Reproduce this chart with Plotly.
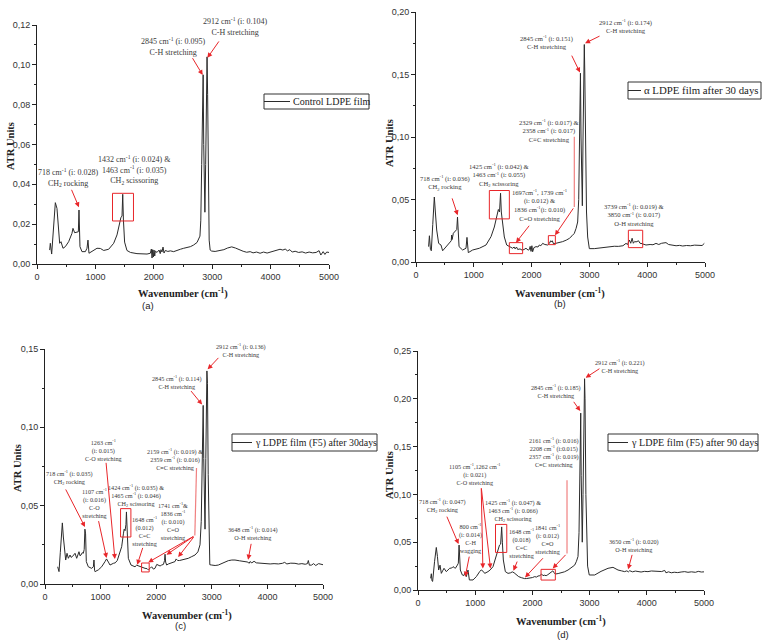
import plotly.graph_objects as go

# ---------------- data: wavenumber (cm-1) and ATR units ----------------
wn_a = [217,228,251,285,314,342,371,388,411,445,485,542,599,616,645,685,708,719,736,770,828,856,873,890,942,
        1027,1085,1142,1227,1313,1370,1416,1438,1456,1468,1480,1500,1540,1600,1712,1800,1884,1941,1958,1970,1981,
        1993,2004,2016,2026,2055,2090,2110,2123,2140,2158,2175,2198,2240,2283,2340,2397,2455,2512,2570,2626,2680,
        2740,2790,2805,2820,2835,2845,2855,2865,2875,2888,2900,2912,2922,2935,2948,2965,2990,3050,3120,3200,3260,
        3334,3400,3470,3530,3590,3650,3700,3760,3820,3880,3940,4000,4060,4110,4161,4210,4250,4290,4330,4370,4420,
        4480,4540,4600,4660,4720,4780,4830,4860,4900,4930,4960,5000]
atr_a = [0.0070,0.0104,0.0050,0.0170,0.0308,0.0279,0.0146,0.0104,0.0112,0.0079,0.0087,0.0112,0.0154,0.0179,0.0157,
         0.0162,0.0162,0.0271,0.0087,0.0062,0.0062,0.0079,0.0120,0.0054,0.0062,0.0079,0.0078,0.0068,0.0074,0.0104,
         0.0146,0.0213,0.0235,0.0240,0.0350,0.0221,0.0110,0.0068,0.0058,0.0052,0.0050,0.0050,0.0054,0.0075,0.0030,
         0.0072,0.0035,0.0070,0.0040,0.0065,0.0058,0.0070,0.0052,0.0072,0.0060,0.0085,0.0055,0.0068,0.0063,0.0066,
         0.0062,0.0070,0.0074,0.0079,0.0082,0.0087,0.0095,0.0108,0.0140,0.0220,0.0500,0.0850,0.0950,0.0600,0.0300,
         0.0260,0.0500,0.0900,0.1040,0.0850,0.0400,0.0120,0.0070,0.0065,0.0063,0.0066,0.0072,0.0080,0.0086,0.0080,
         0.0070,0.0064,0.0059,0.0062,0.0056,0.0060,0.0054,0.0060,0.0055,0.0060,0.0062,0.0068,0.0074,0.0070,0.0075,
         0.0066,0.0072,0.0060,0.0064,0.0058,0.0061,0.0055,0.0060,0.0056,0.0058,0.0067,0.0045,0.0062,0.0048,0.0060,0.0058]

wn_b = [218,232,250,265,290,317,335,358,392,432,461,490,519,577,610,617,625,646,680,705,718,730,745,807,865,882,895,
        905,980,1096,1211,1298,1355,1400,1425,1445,1463,1476,1500,1528,1569,1615,1672,1697,1715,1739,1760,1800,1836,
        1870,1903,1940,1961,1975,1990,2005,2018,2040,2076,2110,2134,2160,2191,2230,2278,2310,2329,2345,2358,2380,2422,
        2480,2537,2600,2653,2700,2739,2770,2797,2815,2830,2845,2855,2865,2878,2890,2912,2920,2935,2950,2970,2999,3085,
        3200,3300,3431,3500,3580,3633,3660,3691,3715,3739,3760,3785,3806,3850,3875,3893,3979,4050,4100,4152,4200,4250,
        4325,4370,4440,4500,4560,4614,4680,4750,4820,4902,4950,4988]
atr_b = [0.0123,0.0210,0.0100,0.0090,0.0300,0.0520,0.0400,0.0256,0.0149,0.0136,0.0090,0.0105,0.0123,0.0149,0.0170,
         0.0216,0.0180,0.0230,0.0243,0.0260,0.0360,0.0200,0.0123,0.0096,0.0110,0.0197,0.0090,0.0075,0.0096,0.0110,
         0.0136,0.0203,0.0280,0.0360,0.0420,0.0400,0.0550,0.0400,0.0300,0.0200,0.0136,0.0123,0.0110,0.0120,0.0105,
         0.0120,0.0100,0.0105,0.0095,0.0100,0.0110,0.0095,0.0100,0.0125,0.0085,0.0130,0.0082,0.0115,0.0123,0.0120,
         0.0136,0.0130,0.0149,0.0140,0.0136,0.0150,0.0170,0.0160,0.0170,0.0145,0.0149,0.0155,0.0163,0.0175,0.0189,
         0.0210,0.0229,0.0270,0.0320,0.0500,0.1000,0.1510,0.1000,0.0500,0.0450,0.1000,0.1740,0.1520,0.0800,0.0400,
         0.0200,0.0107,0.0107,0.0115,0.0120,0.0126,0.0125,0.0130,0.0149,0.0140,0.0176,0.0150,0.0190,0.0150,0.0165,
         0.0160,0.0170,0.0150,0.0149,0.0136,0.0140,0.0138,0.0149,0.0140,0.0150,0.0155,0.0140,0.0136,0.0130,0.0133,
         0.0128,0.0132,0.0130,0.0135,0.0136,0.0132,0.0149]

wn_c = [228,240,252,275,300,312,330,348,372,396,420,450,470,492,515,540,570,595,611,630,647,670,689,705,718,730,743,
        779,839,870,881,892,899,959,1019,1079,1107,1140,1169,1229,1263,1300,1340,1379,1410,1424,1440,1456,1465,1475,
        1499,1547,1619,1648,1679,1739,1760,1799,1836,1858,1890,1918,1950,1978,2010,2038,2070,2098,2130,2150,2159,2170,
        2188,2220,2248,2290,2338,2359,2386,2420,2458,2520,2578,2640,2698,2750,2788,2810,2828,2845,2855,2866,2878,2892,
        2912,2922,2935,2950,2964,2998,3060,3117,3200,3297,3360,3417,3500,3597,3648,3670,3687,3720,3760,3800,3897,3960,
        4050,4120,4197,4270,4310,4350,4420,4496,4560,4620,4680,4720,4736,4755,4796,4830,4870,4920,4976,5000]
atr_c = [0.0110,0.0085,0.0079,0.0200,0.0370,0.0390,0.0300,0.0220,0.0153,0.0196,0.0164,0.0185,0.0170,0.0175,0.0185,
         0.0196,0.0164,0.0190,0.0206,0.0180,0.0185,0.0200,0.0196,0.0220,0.0350,0.0320,0.0143,0.0110,0.0100,0.0110,
         0.0153,0.0085,0.0079,0.0090,0.0110,0.0143,0.0160,0.0140,0.0121,0.0132,0.0135,0.0150,0.0190,0.0238,0.0320,
         0.0350,0.0340,0.0380,0.0460,0.0350,0.0164,0.0121,0.0110,0.0120,0.0115,0.0110,0.0105,0.0100,0.0098,0.0090,
         0.0100,0.0110,0.0095,0.0100,0.0125,0.0121,0.0115,0.0121,0.0125,0.0150,0.0190,0.0140,0.0121,0.0128,0.0132,
         0.0138,0.0143,0.0160,0.0150,0.0150,0.0153,0.0158,0.0164,0.0175,0.0185,0.0205,0.0250,0.0400,0.0800,0.1140,
         0.0800,0.0400,0.0350,0.0800,0.1360,0.1280,0.0700,0.0300,0.0123,0.0121,0.0118,0.0121,0.0135,0.0149,0.0153,
         0.0153,0.0148,0.0143,0.0140,0.0132,0.0143,0.0135,0.0145,0.0135,0.0132,0.0130,0.0128,0.0130,0.0128,0.0132,
         0.0138,0.0128,0.0133,0.0132,0.0127,0.0130,0.0126,0.0130,0.0150,0.0120,0.0121,0.0130,0.0118,0.0130,0.0128,0.0123]

wn_d = [221,233,245,256,290,320,340,361,385,408,430,455,495,525,554,590,612,635,653,688,705,718,730,740,775,800,816,
        845,874,888,898,962,1020,1078,1105,1140,1166,1224,1262,1311,1370,1400,1425,1445,1463,1475,1492,1527,1574,1620,
        1648,1680,1719,1760,1807,1841,1865,1900,1952,2000,2040,2070,2098,2130,2161,2185,2208,2240,2270,2302,2330,2357,
        2380,2401,2450,2506,2560,2623,2680,2739,2770,2797,2815,2828,2845,2853,2862,2872,2885,2898,2912,2920,2935,2950,
        2965,2994,3089,3200,3322,3409,3497,3560,3613,3650,3680,3701,3750,3800,3846,3900,3960,4020,4080,4150,4200,4260,
        4313,4335,4380,4429,4480,4540,4600,4662,4720,4780,4850,4900,4954,5000]
atr_d = [0.0122,0.0170,0.0095,0.0090,0.0300,0.0445,0.0350,0.0209,0.0260,0.0174,0.0200,0.0227,0.0192,0.0210,0.0227,
         0.0230,0.0244,0.0235,0.0227,0.0260,0.0280,0.0470,0.0300,0.0209,0.0157,0.0150,0.0174,0.0140,0.0209,0.0130,
         0.0105,0.0105,0.0140,0.0192,0.0210,0.0195,0.0174,0.0192,0.0210,0.0244,0.0350,0.0420,0.0470,0.0480,0.0660,
         0.0500,0.0314,0.0192,0.0174,0.0180,0.0190,0.0180,0.0157,0.0140,0.0129,0.0120,0.0119,0.0120,0.0122,0.0130,
         0.0140,0.0135,0.0146,0.0150,0.0167,0.0150,0.0155,0.0150,0.0160,0.0174,0.0180,0.0200,0.0180,0.0167,0.0172,
         0.0180,0.0190,0.0209,0.0230,0.0260,0.0300,0.0350,0.0600,0.1200,0.1850,0.1200,0.0550,0.0500,0.1000,0.1600,
         0.2210,0.2000,0.1000,0.0450,0.0250,0.0157,0.0157,0.0195,0.0227,0.0237,0.0209,0.0200,0.0192,0.0200,0.0190,
         0.0202,0.0190,0.0198,0.0192,0.0188,0.0195,0.0192,0.0199,0.0195,0.0200,0.0193,0.0205,0.0180,0.0190,0.0180,
         0.0186,0.0182,0.0188,0.0192,0.0185,0.0190,0.0185,0.0195,0.0188,0.0190]

series_names = ["Control LDPE film", "\u03b1 LDPE film after 30 days",
                "\u03b3 LDPE film (F5) after 30days", "\u03b3 LDPE film (F5) after 90 days"]
panel_letters = ["(a)", "(b)", "(c)", "(d)"]
y_max = [0.12, 0.20, 0.15, 0.25]
y_step = [0.02, 0.05, 0.05, 0.05]

CM = "cm<sup>-1</sup>"
# labels: (text, x, y) in data units
labels_a = [
    (f"2912 {CM} (i: 0.104)<br>C-H stretching", 3405, 0.119),
    (f"2845 {CM} (i: 0.095)<br>C-H stretching", 2335, 0.109),
    (f"1432 {CM} (i: 0.024) &<br>1463 {CM} (i: 0.035)<br>CH<sub>2</sub> scissoring", 1669, 0.047),
    (f"718 {CM} (i: 0.028)<br>CH<sub>2</sub> rocking", 545, 0.0434),
]
labels_b = [
    (f"2912 {CM} (i: 0.174)<br>C-H stretching", 3622, 0.189),
    (f"2845 {CM} (i: 0.151)<br>C-H stretching", 2266, 0.176),
    (f"2329 {CM} (i: 0.017) &<br>2358 {CM} (i: 0.017)<br>C\u2261C stretching", 2307, 0.105),
    (f"1697{CM}, 1739 {CM}<br>(i: 0.012) &<br>1836 {CM}(i: 0.010)<br>C=O stretching", 2151, 0.046),
    (f"1425 {CM} (i: 0.042) &<br>1463 {CM} (i: 0.055)<br>CH<sub>2</sub> scissoring", 1442, 0.0698),
    (f"718 {CM} (i: 0.036)<br>CH<sub>2</sub> rocking", 507, 0.0634),
    (f"3739 {CM} (i: 0.019) &<br>3850 {CM} (i: 0.017)<br>O-H stretching", 3777, 0.0377),
]
labels_c = [
    (f"2912 {CM} (i: 0.136)<br>C-H stretching", 3533, 0.1496),
    (f"2845 {CM} (i: 0.114)<br>C-H stretching", 2365, 0.1287),
    (f"2159 {CM} (i: 0.019) &<br>2359 {CM} (i: 0.016)<br>C\u2261C stretching", 2335, 0.0798),
    (f"1741 {CM}&<br>1836 {CM}<br>(i: 0.010)<br>C=O<br>stretching", 2305, 0.0404),
    (f"1648 {CM}<br>(0.012)<br>C=C<br>stretching", 1784, 0.0338),
    (f"1424 {CM} (i: 0.035) &<br>1465 {CM} (i: 0.046)<br>CH<sub>2</sub> scissoring", 1637, 0.0566),
    (f"1263 {CM}<br>(i: 0.015)<br>C-O stretching", 1048, 0.0853),
    (f"1107 {CM}<br>(i: 0.016)<br>C-O<br>stretching", 886, 0.0517),
    (f"718 {CM} (i: 0.035)<br>CH<sub>2</sub> rocking", 445, 0.0677),
    (f"3648 {CM} (i: 0.014)<br>O-H stretching", 3742, 0.0326),
]
labels_d = [
    (f"2912 {CM} (i: 0.221)<br>C-H stretching", 3535, 0.2345),
    (f"2845 {CM} (i: 0.185)<br>C-H stretching", 2413, 0.208),
    (f"2161 {CM} (i: 0.016)<br>2208 {CM} (i:0.015)<br>2357 {CM} (i: 0.019)<br>C\u2261C stretching", 2384, 0.1444),
    (f"1841 {CM}<br>(i: 0.012)<br>C\u2261O<br>stretching", 2256, 0.0536),
    (f"1648 {CM}<br>(0.018)<br>C=C<br>stretching", 1802, 0.0494),
    (f"1425 {CM} (i: 0.047) &<br>1463 {CM} (i: 0.066)<br>CH<sub>2</sub> scissoring", 1657, 0.0828),
    (f"1105 {CM},1262 {CM}<br>(i: 0.021)<br>C-O stretching", 988, 0.1214),
    (f"800 {CM}<br>(i: 0.014)<br>C-H<br>wagging", 919, 0.054),
    (f"718 {CM} (i: 0.047)<br>CH<sub>2</sub> rocking", 430, 0.0884),
    (f"3650 {CM} (i: 0.020)<br>O-H stretching", 3779, 0.0473),
]
# arrows: (tail x, tail y, tip x, tip y)
arrows_a = [(3132, 0.1125, 2918, 0.1035), (2648, 0.1041, 2837, 0.0949), (581, 0.038, 718, 0.0285)]
arrows_b = [(3201, 0.1813, 2925, 0.175), (2682, 0.1663, 2837, 0.1516), (2739, 0.0441, 2405, 0.0214),
            (1978, 0.0302, 1730, 0.0155), (617, 0.0521, 721, 0.0374)]
arrows_c = [(3144, 0.1453, 2925, 0.137), (2605, 0.1241, 2826, 0.1145), (2695, 0.0309, 2186, 0.0187),
            (2695, 0.0309, 2395, 0.0172), (2695, 0.0309, 1856, 0.0138), (1766, 0.024, 1659, 0.0123),
            (1096, 0.0783, 1257, 0.016), (958, 0.0411, 1108, 0.0166), (359, 0.0613, 719, 0.0364),
            (3713, 0.0266, 3653, 0.0155)]
arrows_d = [(3198, 0.2325, 2930, 0.222), (2704, 0.1984, 2837, 0.1872), (2605, 0.0383, 2355, 0.0226),
            (2209, 0.0348, 1872, 0.0132), (1744, 0.0313, 1669, 0.0202), (1105, 0.1079, 1134, 0.0226),
            (1105, 0.1079, 1267, 0.0226), (901, 0.0365, 826, 0.0139), (494, 0.0783, 709, 0.048),
            (3750, 0.0383, 3674, 0.0216)]
# connector lines (x0, y0, x1, y1)
lines_a = []
lines_b = [(2739, 0.1003, 2739, 0.0441)]
lines_c = [(2725, 0.0741, 2695, 0.0309)]
lines_d = [(2605, 0.1148, 2605, 0.0383)]
# boxes (x0, y0, x1, y1)
boxes_a = [(1293, 0.0216, 1652, 0.0355)]
boxes_b = [(2290, 0.0139, 2411, 0.0211), (1615, 0.0067, 1845, 0.0155), (1269, 0.0345, 1615, 0.0572),
           (3674, 0.0115, 3922, 0.0254)]
boxes_c = [(1737, 0.0077, 1874, 0.0134), (1359, 0.030, 1545, 0.0481)]
boxes_d = [(2151, 0.0104, 2401, 0.0216), (1355, 0.0393, 1552, 0.0686)]

# ---------------- layout geometry (pixels of a 762x641 page) ----------------
W, H = 762, 641
plot_px = [(37, 329, 25, 264), (416, 705, 12, 262), (45, 323, 349, 584), (418, 704, 351, 590)]
# legend box: (left, top, right, bottom, line end x, font size)
legend_px = [(264, 94, 369, 109, 290, 10), (628, 82, 761, 99, 641, 10.8),
             (232, 434, 377, 451, 252, 9.9), (608, 434, 758, 451, 628, 10.1)]
xtitle_px = [(183, 293), (560, 293), (187, 615), (561, 621)]
ytitle_px = [(10, 146), (389, 143), (17, 468), (389, 475)]
letter_px = [(148, 305), (560, 303), (180, 625), (563, 634)]
label_size = [8, 6.6, 6.2, 6.2]

SERIF = "Liberation Serif"
SANS = "Liberation Sans"
RED = "#e8262a"

fig = go.Figure()
wns = [wn_a, wn_b, wn_c, wn_d]
atrs = [atr_a, atr_b, atr_c, atr_d]
labels = [labels_a, labels_b, labels_c, labels_d]
arrows = [arrows_a, arrows_b, arrows_c, arrows_d]
lines = [lines_a, lines_b, lines_c, lines_d]
boxes = [boxes_a, boxes_b, boxes_c, boxes_d]

def px(xp):
    return xp / W

def py(yp):
    return (H - yp) / H

annotations = []
shapes = []
layout = {}
for i in range(4):
    sfx = "" if i == 0 else str(i + 1)
    xa, ya = "x" + sfx, "y" + sfx
    fig.add_trace(go.Scatter(x=wns[i], y=atrs[i], mode="lines", name=series_names[i],
                             line=dict(color="#2b2b2b", width=1), xaxis=xa, yaxis=ya,
                             showlegend=False, hoverinfo="skip"))
    x0, x1, yt, yb = plot_px[i]
    layout["xaxis" + sfx] = dict(domain=[px(x0), px(x1)], range=[0, 5000], anchor=ya,
                                 showline=True, linecolor="#222", linewidth=1, ticks="outside",
                                 ticklen=4, tickcolor="#222", dtick=1000, tickformat="d",
                                 tickfont=dict(family=SANS, size=9, color="#333"),
                                 minor=dict(ticks="outside", ticklen=2, dtick=500, tickcolor="#222"),
                                 showgrid=False, zeroline=False, fixedrange=True)
    layout["yaxis" + sfx] = dict(domain=[py(yb), py(yt)], range=[0, y_max[i]], anchor=xa,
                                 showline=True, linecolor="#222", linewidth=1, ticks="outside",
                                 ticklen=4, tickcolor="#222", dtick=y_step[i], tickformat=".2f",
                                 tickfont=dict(family=SANS, size=9, color="#333"),
                                 minor=dict(ticks="outside", ticklen=2, dtick=y_step[i] / 2, tickcolor="#222"),
                                 showgrid=False, zeroline=False, fixedrange=True)
    # legend drawn as a framed key
    lx0, ly0, lx1, ly1, lend, lfs = legend_px[i]
    shapes.append(dict(type="rect", xref="paper", yref="paper", x0=px(lx0), x1=px(lx1),
                       y0=py(ly1), y1=py(ly0), line=dict(color="#333", width=1), fillcolor="white",
                       layer="above"))
    ymid = (ly0 + ly1) / 2
    shapes.append(dict(type="line", xref="paper", yref="paper", x0=px(lx0), x1=px(lend),
                       y0=py(ymid), y1=py(ymid), line=dict(color="#2b2b2b", width=1)))
    annotations.append(dict(text=series_names[i], x=px(lend + 1), y=py(ymid), xref="paper", yref="paper",
                            showarrow=False, xanchor="left", yanchor="middle",
                            font=dict(family=SERIF, size=lfs, color="#222")))
    for (t, tx, ty) in labels[i]:
        annotations.append(dict(text=t, x=tx, y=ty, xref=xa, yref=ya, showarrow=False,
                                xanchor="center", yanchor="middle", align="center",
                                font=dict(family=SERIF, size=label_size[i], color="#3a3a3a")))
    for (ax_, ay_, tx, ty) in arrows[i]:
        annotations.append(dict(text="", x=tx, y=ty, ax=ax_, ay=ay_, xref=xa, yref=ya,
                                axref=xa, ayref=ya, showarrow=True, arrowhead=2, arrowsize=1,
                                arrowwidth=1, arrowcolor=RED, standoff=0, startstandoff=0))
    for (a0, b0, a1, b1) in lines[i]:
        shapes.append(dict(type="line", x0=a0, y0=b0, x1=a1, y1=b1, xref=xa, yref=ya,
                           line=dict(color="#f08080", width=1.2)))
    for (a0, b0, a1, b1) in boxes[i]:
        shapes.append(dict(type="rect", x0=a0, y0=b0, x1=a1, y1=b1, xref=xa, yref=ya,
                           line=dict(color=RED, width=1)))
    tx, ty = xtitle_px[i]
    annotations.append(dict(text="<b>Wavenumber (cm<sup>-1</sup>)</b>", x=px(tx), y=py(ty),
                            xref="paper", yref="paper", showarrow=False, xanchor="center", yanchor="middle",
                            font=dict(family=SERIF, size=10.5, color="#222")))
    tx, ty = ytitle_px[i]
    annotations.append(dict(text="<b>ATR Units</b>", x=px(tx), y=py(ty), textangle=-90,
                            xref="paper", yref="paper", showarrow=False, xanchor="center", yanchor="middle",
                            font=dict(family=SERIF, size=10.5, color="#222")))
    tx, ty = letter_px[i]
    annotations.append(dict(text=panel_letters[i], x=px(tx), y=py(ty),
                            xref="paper", yref="paper", showarrow=False, xanchor="center", yanchor="middle",
                            font=dict(family=SANS, size=9.5, color="#222")))

fig.update_layout(**layout)
fig.update_layout(width=W, height=H, margin=dict(l=0, r=0, t=0, b=0, autoexpand=False),
                  paper_bgcolor="white", plot_bgcolor="white", separators=",.",
                  annotations=annotations, shapes=shapes, hovermode=False, showlegend=False)
fig.write_html("out.html", config={"displayModeBar": False},
               post_script="document.body.style.margin='0px';document.body.style.overflow='hidden';")
